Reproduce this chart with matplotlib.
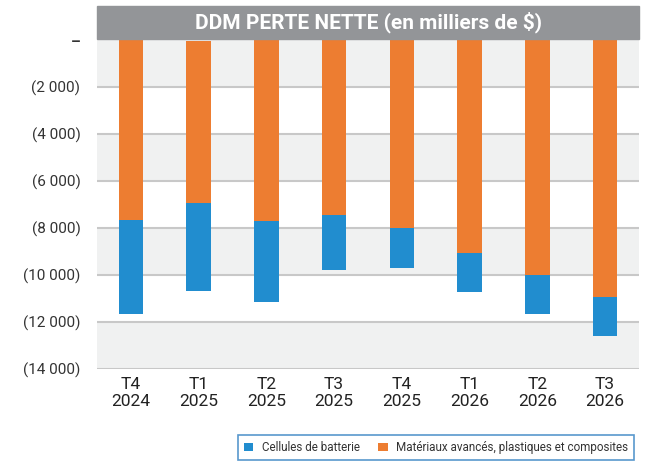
import matplotlib.pyplot as plt
from matplotlib.patches import Rectangle

trimestres = ['T4\n2024', 'T1\n2025', 'T2\n2025', 'T3\n2025', 'T4\n2025', 'T1\n2026', 'T2\n2026', 'T3\n2026']
materiaux = [-7660, -6900, -7700, -7450, -7990, -9060, -10000, -10940]
cellules = [-4000, -3730, -3440, -2340, -1700, -1660, -1660, -1660]
debut_orange = [0, -40, 0, 0, 0, 0, 0, 0]
y_ticks = [0, -2000, -4000, -6000, -8000, -10000, -12000, -14000]

orange = '#ED7D31'
bleu = '#218DCF'

plt.rcParams['font.family'] = ['Roboto', 'DejaVu Sans']

fig = plt.figure(figsize=(6.56, 4.62), dpi=100)
ax = fig.add_axes([0.148, 0.2013, 0.826, 0.7121])

# bandes alternees
for i in range(len(y_ticks) - 1):
    if i % 2 == 0:
        ax.axhspan(y_ticks[i + 1], y_ticks[i], color='#F0F1F1', zorder=0, lw=0)
for t in y_ticks[1:]:
    ax.axhline(t, color='#C8C8C8', lw=1.5, zorder=1)

x = range(len(trimestres))
ax.bar(x, materiaux, 0.36, bottom=debut_orange, color=orange, zorder=2,
       label='Matériaux avancés, plastiques et composites')
bas = [d + m for d, m in zip(debut_orange, materiaux)]
ax.bar(x, cellules, 0.36, bottom=bas, color=bleu, zorder=2, label='Cellules de batterie')

ax.set_xlim(-0.5, len(trimestres) - 0.5)
ax.set_ylim(-14000, 0)
ax.set_yticks(y_ticks)
ax.set_yticklabels(['–'] + ['({:,})'.format(-t).replace(',', ' ') for t in y_ticks[1:]])
ax.get_yticklabels()[0].set_fontweight('bold')
ax.get_yticklabels()[0].set_fontsize(13)
ax.set_xticks(list(x))
ax.set_xticklabels(trimestres, fontsize=12.5, color='#222222', linespacing=1.1)
ax.tick_params(axis='y', length=0, pad=12, labelsize=11, labelcolor='#333333')
ax.tick_params(axis='x', length=0, pad=6)
for s in ax.spines.values():
    s.set_visible(False)

# bandeau du titre
fig.patches.append(Rectangle((0.148, 0.916), 0.826, 0.071, transform=fig.transFigure,
                             color='#939598', zorder=0))
fig.text(0.561, 0.951, 'DDM PERTE NETTE (en milliers de $)', ha='center', va='center',
         color='white', fontsize=15, fontweight='bold')

h, l = ax.get_legend_handles_labels()
leg = fig.legend(h[::-1], l[::-1], loc='lower right', bbox_to_anchor=(0.975, -0.008), ncol=2,
                 fontsize=8.4, frameon=True, fancybox=False, handlelength=0.8, handleheight=0.8,
                 columnspacing=1.6, handletextpad=0.7, borderpad=0.5)
leg.get_frame().set_edgecolor('#2F7EC1')
leg.get_frame().set_linewidth(1.2)
for t in leg.get_texts():
    t.set_color('#333333')

fig.savefig('out.png', dpi=100)
